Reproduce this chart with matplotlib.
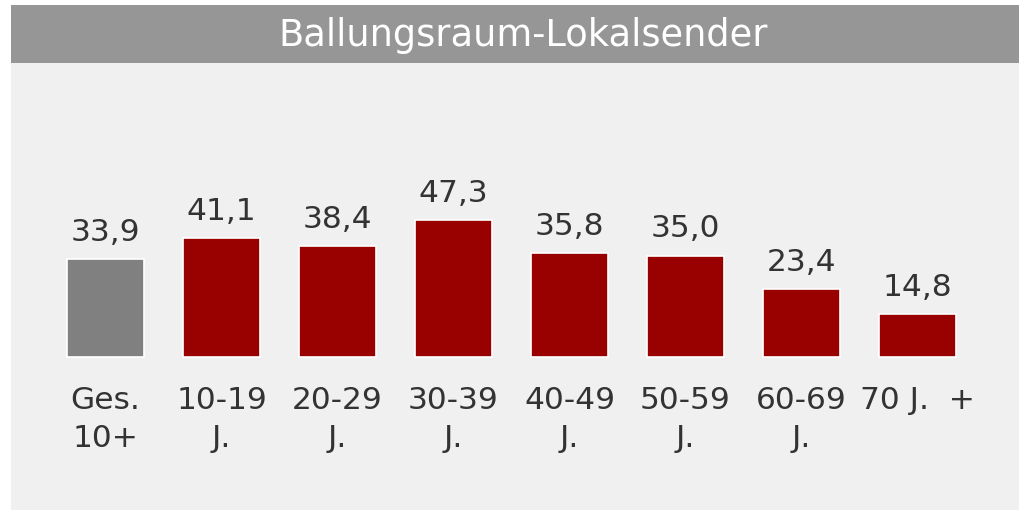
import matplotlib.pyplot as plt

# data
categories = ["Ges.\n10+", "10-19\nJ.", "20-29\nJ.", "30-39\nJ.", "40-49\nJ.",
              "50-59\nJ.", "60-69\nJ.", "70 J.  +"]
values = [33.9, 41.1, 38.4, 47.3, 35.8, 35.0, 23.4, 14.8]
value_labels = ["33,9", "41,1", "38,4", "47,3", "35,8", "35,0", "23,4", "14,8"]
title = "Ballungsraum-Lokalsender"

W, H = 1019, 513
plt.rcParams['font.family'] = ['DejaVu Sans']

fig = plt.figure(figsize=(W / 100, H / 100), dpi=100)
fig.patch.set_facecolor("white")

# title bar (pixel coords converted to figure fractions)
bar_ax = fig.add_axes([11 / W, (H - 63) / H, (W - 11) / W, 58 / H])
bar_ax.set_facecolor("#959695")
bar_ax.set_xticks([])
bar_ax.set_yticks([])
for s in bar_ax.spines.values():
    s.set_visible(False)
bar_ax.text(0.508, 0.47, title, color="white", fontsize=26.5,
            ha="center", va="center", transform=bar_ax.transAxes)

# main panel
ax = fig.add_axes([11 / W, 3 / H, (W - 11) / W, (H - 63 - 3) / H])
ax.set_facecolor("#f0f0f0")
for s in ax.spines.values():
    s.set_visible(False)
ax.set_xticks([])
ax.set_yticks([])

pitch = 116.0
px_per_unit = 2.9
x0 = 105.5
ax.set_xlim((11 - x0) / pitch, (W - x0) / pitch)
ax.set_ylim(-(H - 357 - 3) / px_per_unit, (H - 63 - (H - 357)) / px_per_unit)

colors = ["#808080"] + ["#990000"] * (len(values) - 1)
xs = list(range(len(values)))
ax.bar(xs, values, width=77 / pitch, color=colors, edgecolor="white",
       linewidth=1.2)

for x, v, lab in zip(xs, values, value_labels):
    ax.annotate(lab, (x, v), xytext=(0, 13), textcoords="offset points",
                ha="center", va="baseline", fontsize=22.5, color="#333333")

for x, cat in zip(xs, categories):
    ax.annotate(cat, (x, 0), xytext=(0, -21), textcoords="offset points",
                ha="center", va="top", fontsize=22.5, color="#333333",
                multialignment="center", linespacing=1.4)

fig.savefig("out.png", dpi=100)
